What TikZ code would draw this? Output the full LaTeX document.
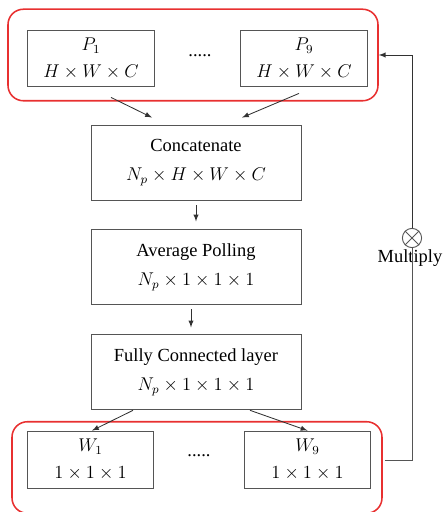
\documentclass[tikz,border=0pt]{standalone}
\usepackage{fontspec}
\setmainfont{Liberation Serif}
\usetikzlibrary{arrows,positioning,calc}
\definecolor{boxgray}{RGB}{85,85,85}
\definecolor{groupred}{RGB}{232,48,48}
\definecolor{linegray}{RGB}{50,50,50}

\begin{document}
\begin{tikzpicture}[
    x=0.65pt, y=-0.65pt,
    node distance=18.85pt,
    every node/.style={font=\fontsize{12pt}{19pt}\selectfont},
    block/.style={rectangle, draw=boxgray, line width=0.6pt, minimum width=136.5pt, minimum height=48.75pt, align=center, inner sep=0pt},
    patch/.style={rectangle, draw=boxgray, line width=0.6pt, minimum width=82pt, minimum height=37pt, align=center, inner sep=0pt, font=\fontsize{12pt}{17.5pt}\selectfont},
    group/.style={rectangle, draw=groupred, line width=1pt, rounded corners=10pt, minimum width=240.5pt, minimum height=59.5pt, inner sep=0pt},
    arrow/.style={->, >=latex, line width=0.55pt, color=linegray},
    link/.style={line width=0.6pt, color=boxgray}
]
\useasboundingbox (0,0) rectangle (444,512);

% Patch inputs
\node[group] (pgroup) at (193,55) {};
\node[patch] (p1) at (91,58.5) {$P_1$\\$H\times W\times C$};
\node[patch] (p9) at (304,58.5) {$P_9$\\$H\times W\times C$};
\node (pdots) at (200,56) {.....};

% Main chain
\node[block] (concat) at (196,162.5) {Concatenate\\$N_p\times H\times W\times C$};
\node[block, below=of concat] (avgpool) {Average Polling\\$N_p\times 1\times 1\times 1$};
\node[block, below=of avgpool] (fc) {Fully Connected layer\\$N_p\times 1\times 1\times 1$};

% Weight outputs
\node[group] (wgroup) at (197,467.5) {};
\node[patch] (w1) at (90.5,459.5) {$W_1$\\$1\times 1\times 1$};
\node[patch] (w9) at (307.5,459.5) {$W_9$\\$1\times 1\times 1$};
\node (wdots) at (199,456) {.....};

% Multiply on the feedback path
\node[circle, draw=boxgray, line width=0.6pt, minimum size=12.5pt, inner sep=0pt, fill=white] (mult) at (412,238) {};
\draw[link] (mult.north west) -- (mult.south east);
\draw[link] (mult.north east) -- (mult.south west);
\node[below=0pt of mult, xshift=-1.3pt, inner sep=1pt] (multlbl) {Multiply};

% Connections
\draw[arrow] ($(p1.south)+(20,10)$) -- ($(concat.north)+(-44,-7)$);
\draw[arrow] ($(p9.south)+(-5,6)$) -- ($(concat.north)+(46,-7)$);
\draw[arrow] ($(concat.south)+(0,5)$) -- ($(avgpool.north)+(0,-8)$);
\draw[arrow] ($(avgpool.south)+(-5,4)$) -- ($(fc.north)+(-5,-7)$);
\draw[arrow] ($(fc.south)+(-63,0)$) -- ($(w1.north)+(1.5,0)$);
\draw[arrow] ($(fc.south)+(54,0)$) -- (w9.north);

% Feedback
\draw[link] ($(wgroup.east)+(2,-7)$) -| (mult.south);
\draw[arrow] (mult.north) |- (pgroup.east);

\end{tikzpicture}
\end{document}
